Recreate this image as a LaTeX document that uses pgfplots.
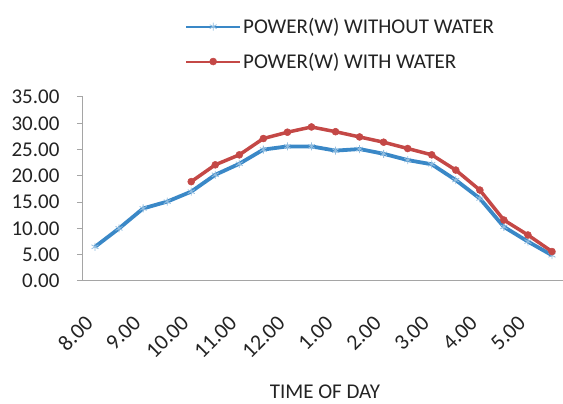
\documentclass[border=0pt]{standalone}
\usepackage{fontspec}
\setmainfont{Carlito}
\usepackage{pgfplots}
\pgfplotsset{compat=1.18}
\definecolor{bluepw}{RGB}{58,136,199}
\definecolor{redpw}{RGB}{196,72,70}
\definecolor{axgray}{RGB}{165,165,165}
\definecolor{txt}{RGB}{35,35,35}
\newcommand{\fs}{\fontsize{21}{25}\selectfont}
\begin{document}
\begin{tikzpicture}
\path[use as bounding box] (0,0) rectangle (563pt,404pt);
\begin{axis}[
  at={(83pt,123pt)}, anchor=south west,
  scale only axis, width=481pt, height=184pt,
  xmin=-0.5, xmax=19.5, ymin=0, ymax=35,
  axis x line*=bottom, axis y line*=left,
  axis line style={axgray, line width=1pt},
  /pgf/number format/assume math mode=true,
  xtick={0,2,...,18},
  xticklabels={8.00,9.00,10.00,11.00,12.00,1.00,2.00,3.00,4.00,5.00},
  ytick={0,5,...,35},
  yticklabel={\pgfmathprintnumber[fixed,fixed zerofill,precision=2]{\tick}},
  x tick style={draw=none},
  y tick style={axgray, line width=1pt},
  tick align=outside, major tick length=6pt,
  tick label style={font=\fs, text=txt},
  xticklabel style={rotate=45, anchor=north east, inner sep=0pt,
    font=\fontsize{22}{26}\selectfont, yshift=-11pt, xshift=-27pt},
  yticklabel style={xshift=-14pt},
  xlabel={TIME OF DAY},
  xlabel style={at={(axis description cs:0.503,-0.603)}, anchor=center,
    inner sep=0pt, font=\fs, text=txt},
  legend style={at={(axis description cs:0.212,1.44)}, anchor=north west,
    draw=none, fill=none, font=\fs, text=txt, row sep=14pt, inner sep=0pt},
  legend cell align=left,
  legend image code/.code={\draw[#1, line width=2pt, mark repeat=2, mark phase=2]
    plot coordinates {(0pt,0pt) (27pt,0pt) (54pt,0pt)};},
]
\addplot[bluepw, line width=3.8pt, mark=asterisk, mark size=4pt,
  mark options={line width=0.8pt, draw=bluepw!55}] coordinates {
  (0,6.5) (1,10.0) (2,13.8) (3,15.1) (4,17.0) (5,20.2) (6,22.3) (7,25.0)
  (8,25.6) (9,25.6) (10,24.8) (11,25.1) (12,24.2) (13,23.0) (14,22.2)
  (15,19.2) (16,15.7) (17,10.3) (18,7.5) (19,4.9)};
\addlegendentry{POWER(W) WITHOUT WATER}
\addplot[redpw, line width=3.5pt, mark=*, mark size=3.5pt,
  mark options={fill=redpw, line width=0.5pt}] coordinates {
  (4,18.9) (5,22.1) (6,24.0) (7,27.1) (8,28.3) (9,29.3) (10,28.4) (11,27.4)
  (12,26.4) (13,25.2) (14,24.0) (15,21.1) (16,17.3) (17,11.6) (18,8.75) (19,5.6)};
\addlegendentry{POWER(W) WITH WATER}
\end{axis}
\end{tikzpicture}
\end{document}
